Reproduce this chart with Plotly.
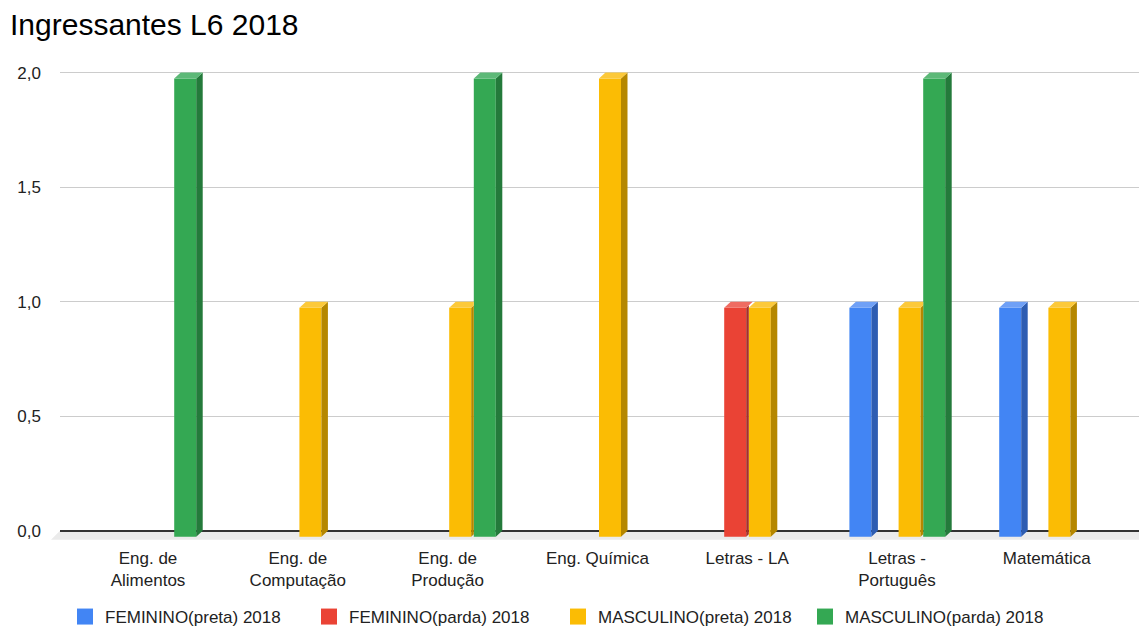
import plotly.graph_objects as go

# ---- data -------------------------------------------------------------
categories = [
    "Eng. de<br>Alimentos",
    "Eng. de<br>Computação",
    "Eng. de<br>Produção",
    "Eng. Química",
    "Letras - LA",
    "Letras -<br>Português",
    "Matemática",
]
series_names = [
    "FEMININO(preta) 2018",
    "FEMININO(parda) 2018",
    "MASCULINO(preta) 2018",
    "MASCULINO(parda) 2018",
]
feminino_preta = [0, 0, 0, 0, 0, 1, 1]
feminino_parda = [0, 0, 0, 0, 1, 0, 0]
masculino_preta = [0, 1, 1, 2, 1, 1, 1]
masculino_parda = [2, 0, 2, 0, 0, 2, 0]
y_ticks = [0, 0.5, 1, 1.5, 2]

series_values = [feminino_preta, feminino_parda, masculino_preta, masculino_parda]

# ---- styling ----------------------------------------------------------
front_colors = ["#4285F4", "#EA4335", "#FBBC04", "#34A853"]
side_colors = ["#2E5DB2", "#A6302A", "#B58700", "#247A3B"]
top_colors = ["#6FA0F6", "#EF6C62", "#FCC93A", "#5DB978"]
legend_widths = [199, 204, 202, 215]

W, H = 1139, 628
M_L, M_R = 60, 0
X_RANGE = [-0.5875, 6.6155]
Y_RANGE = [-0.045, 2.02]
PX_PER_Y = 229.0
M_T = 73 - (Y_RANGE[1] - 2) * PX_PER_Y
M_B = H - (531 + (0 - Y_RANGE[0]) * PX_PER_Y)
PLOT_W = W - M_L - M_R
PX_PER_X = PLOT_W / (X_RANGE[1] - X_RANGE[0])

# 3D depth of the bars (pixels converted to axis units)
DX = 6.5 / PX_PER_X
DY = 6.0 / PX_PER_Y
SLOT = 24.6 / PX_PER_X
BAR_W = 22.0 / PX_PER_X
FIRST_OFFSET = -47.6 / PX_PER_X
offsets = [FIRST_OFFSET + k * SLOT for k in range(len(series_values))]

fig = go.Figure()
x_idx = list(range(len(categories)))

for k, (name, vals) in enumerate(zip(series_names, series_values)):
    # front faces
    fig.add_trace(go.Bar(
        x=x_idx, y=vals, base=-DY, offset=offsets[k], width=BAR_W,
        marker=dict(color=front_colors[k], line=dict(width=0)),
        name=name, legendgroup=name, showlegend=False,
        customdata=vals, hovertemplate="%{customdata}<extra>" + name + "</extra>",
    ))

    side_x, side_y, top_x, top_y = [], [], [], []
    for i, v in enumerate(vals):
        if v <= 0:
            continue
        a = i + offsets[k]
        b = a + BAR_W
        # neighbouring bar in front hides part of this bar's right side
        cut = b + DX
        nxt_v = 0
        if k + 1 < len(series_values) and series_values[k + 1][i] > 0:
            nxt_v = series_values[k + 1][i]
            cut = min(cut, i + offsets[k + 1])
        rise = (cut - b) / DX * DY
        side_x += [b, cut, cut, b, b, None]
        side_y += [-DY, -DY + rise, v - DY + rise, v - DY, -DY, None]
        if nxt_v > v:
            top_x += [a, b, cut, cut, a + DX, a, None]
            top_y += [v - DY, v - DY, v - DY + rise, v, v, v - DY, None]
        else:
            top_x += [a, a + DX, b + DX, b, a, None]
            top_y += [v - DY, v, v, v - DY, v - DY, None]

    for xs, ys, col in ((side_x, side_y, side_colors[k]), (top_x, top_y, top_colors[k])):
        if xs:
            fig.add_trace(go.Scatter(
                x=xs, y=ys, mode="lines", fill="toself", fillcolor=col,
                line=dict(width=0, color=col), hoverinfo="skip",
                showlegend=False, legendgroup=name,
            ))

# legend entries
for k, name in enumerate(series_names):
    fig.add_trace(go.Scatter(
        x=[None], y=[None], mode="markers", name=name, legendgroup=name,
        legendwidth=legend_widths[k],
        marker=dict(symbol="square", size=16, color=front_colors[k], line=dict(width=0)),
    ))

# floor under the zero line
fl_dx = 9.0 / PLOT_W
fl_dy = 9.0 / PX_PER_Y
fig.add_shape(
    type="path", xref="paper", yref="y", layer="below",
    path=f"M 0,0 L 1,0 L 1,{-fl_dy} L {-fl_dx},{-fl_dy} Z",
    fillcolor="#EBEBEB", line=dict(width=0),
)

font_family = "Liberation Sans, Arial, sans-serif"
fig.update_layout(
    width=W, height=H,
    margin=dict(l=M_L, r=M_R, t=M_T, b=M_B, pad=0),
    paper_bgcolor="white", plot_bgcolor="white",
    separators=",.",
    barmode="overlay",
    font=dict(family=font_family, size=17, color="#222222"),
    title=dict(
        text="Ingressantes L6 2018",
        font=dict(family=font_family, size=30, color="#000000"),
        xref="container", x=10 / W, xanchor="left",
        yref="container", y=1 - 24 / H, yanchor="middle",
    ),
    xaxis=dict(
        range=X_RANGE, tickmode="array", tickvals=x_idx, ticktext=categories,
        showgrid=False, zeroline=False, showline=False, ticks="",
        tickfont=dict(size=17, color="#222222"), ticklabelstandoff=5,
        fixedrange=True,
    ),
    yaxis=dict(
        range=Y_RANGE, tickmode="array", tickvals=y_ticks, tickformat=".1f",
        showgrid=True, gridcolor="#CCCCCC", gridwidth=1,
        zeroline=True, zerolinecolor="#333333", zerolinewidth=2,
        showline=False, ticks="", ticklabelstandoff=18,
        tickfont=dict(size=17, color="#222222"), fixedrange=True,
    ),
    legend=dict(
        orientation="h", xref="container", x=565 / W, xanchor="center",
        yref="container", y=1 - 617 / H, yanchor="middle",
        font=dict(size=17, color="#222222"),
        bgcolor="rgba(0,0,0,0)",
    ),
)

fig.write_html("out.html")
